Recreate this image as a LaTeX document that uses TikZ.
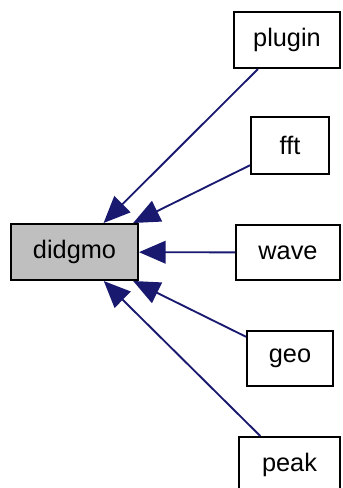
\documentclass[tikz,border=0pt]{standalone}
\usepackage{fontspec}
\setmainfont{Liberation Sans}
\usetikzlibrary{arrows.meta}
\definecolor{edgeblue}{HTML}{191970}
\definecolor{mainfill}{HTML}{BFBFBF}

\begin{document}
\begin{tikzpicture}[x=0.75pt, y=-0.75pt,
	box/.style={draw=black, line width=1.5pt, rectangle, inner sep=0pt, minimum height=42pt, font=\fontsize{19}{22}\selectfont},
	link/.style={draw=edgeblue, line width=1.4pt, -{Triangle[length=20pt,width=17pt]}}]
			%%%%% START %%%%%
			
			\useasboundingbox (0,0) rectangle (342,488);
			
			\node[box, fill=mainfill, minimum width=95.25pt] (didgmo) at (74.5, 252) {didgmo};
			
			\node[box, minimum width=79.5pt] (plugin) at (287, 40) {plugin};
			\node[box, minimum width=58.5pt, minimum height=42.75pt] (fft) at (290, 145.5) {fft};
			\node[box, minimum width=78pt, minimum height=41.25pt] (wave) at (288, 252.5) {wave};
			\node[box, minimum width=64.5pt, minimum height=41.25pt] (geo) at (290, 358.5) {geo};
			\node[box, minimum width=75.75pt] (peak) at (289.5, 465) {peak};
			
			\draw[link] (plugin) -- (didgmo);
			\draw[link] (fft) -- (didgmo);
			\draw[link] (wave) -- (didgmo);
			\draw[link] (geo) -- (didgmo);
			\draw[link] (peak) -- (didgmo);
			
			%%%%% END %%%%%
\end{tikzpicture}
\end{document}
